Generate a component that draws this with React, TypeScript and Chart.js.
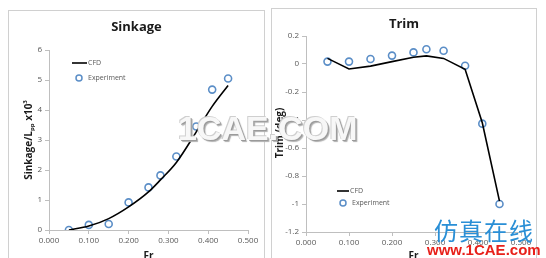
import React, { useEffect, useRef } from "react";
import { Chart, registerables } from "chart.js";
Chart.register(...registerables);

const froude = [0.05, 0.1, 0.15, 0.2, 0.25, 0.28, 0.32, 0.37, 0.41, 0.45];
const sinkageCFD = [0.0, 0.13, 0.38, 0.77, 1.27, 1.67, 2.25, 3.27, 4.12, 4.82];
const sinkageExp = [0.0, 0.17, 0.2, 0.92, 1.42, 1.82, 2.45, 3.45, 4.68, 5.05];
const trimCFD = [0.04, -0.036, -0.015, 0.017, 0.048, 0.058, 0.04, -0.038, -0.42, -0.98];
const trimExp = [0.017, 0.017, 0.036, 0.06, 0.083, 0.105, 0.095, -0.012, -0.426, -1.0];
const legendLabels = ["CFD", "Experiment"];

const FONT = "'Open Sans', 'Noto Sans', sans-serif";
const TICK = "#595959";
const AXIS = "#bfbfbf";
const MARK = "#5b8ec7";

type Cfg = {
  w: number; h: number;
  plot: { l: number; t: number; r: number; b: number };
  title: string; titleY: number;
  yMin: number; yMax: number; yStep: number;
  cfd: number[]; exp: number[]; smooth: boolean;
  legend: { lx1: number; lx2: number; ly: number; cx: number; cy: number; tx: number };
  yTitle: (ctx: CanvasRenderingContext2D) => void;
  frY: number;
};

function makePlugin(c: Cfg) {
  return {
    id: "decor",
    afterDraw(chart: any) {
      const ctx: CanvasRenderingContext2D = chart.ctx;
      const area = chart.chartArea;
      ctx.save();
      ctx.strokeStyle = "#d0d0d0";
      ctx.lineWidth = 1;
      ctx.strokeRect(0.5, 0.5, c.w - 1, c.h - 1);
      ctx.fillStyle = "#1a1a1a";
      ctx.textAlign = "center";
      ctx.textBaseline = "middle";
      ctx.font = `bold 13px ${FONT}`;
      ctx.fillText(c.title, c.w / 2, c.titleY);
      ctx.font = `bold 10px ${FONT}`;
      ctx.fillText("Fr", (area.left + area.right) / 2, c.frY);
      // legend
      const L = c.legend;
      ctx.strokeStyle = "#000";
      ctx.lineWidth = 1.6;
      ctx.beginPath();
      ctx.moveTo(L.lx1, L.ly);
      ctx.lineTo(L.lx2, L.ly);
      ctx.stroke();
      ctx.beginPath();
      ctx.arc(L.cx, L.cy, 3, 0, Math.PI * 2);
      ctx.fillStyle = "#fff";
      ctx.fill();
      ctx.strokeStyle = MARK;
      ctx.lineWidth = 1.5;
      ctx.stroke();
      ctx.fillStyle = TICK;
      ctx.textAlign = "left";
      ctx.font = `7px ${FONT}`;
      ctx.fillText(legendLabels[0], L.lx2 + 1, L.ly);
      ctx.fillText(legendLabels[1], L.tx, L.cy);
      ctx.restore();
      ctx.save();
      c.yTitle(ctx);
      ctx.restore();
    },
  };
}

function ChartBox({ c, left, top }: { c: Cfg; left: number; top: number }) {
  const ref = useRef<HTMLCanvasElement>(null);
  useEffect(() => {
    const xW = 28;
    const chart = new Chart(ref.current!, {
      type: "line",
      data: {
        datasets: [
          {
            label: legendLabels[0],
            data: froude.map((x, i) => ({ x, y: c.cfd[i] })),
            borderColor: "#000",
            borderWidth: 1.6,
            pointRadius: 0,
            tension: c.smooth ? 0.4 : 0,
            cubicInterpolationMode: c.smooth ? "monotone" : "default",
            fill: false,
          },
          {
            label: legendLabels[1],
            data: froude.map((x, i) => ({ x, y: c.exp[i] })),
            showLine: false,
            pointRadius: 3.5,
            pointBorderWidth: 1.6,
            pointBorderColor: MARK,
            pointBackgroundColor: "#fff",
            borderColor: MARK,
          },
        ],
      },
      options: {
        responsive: false,
        animation: false,
        devicePixelRatio: 1,
        layout: {
          padding: { left: 0, top: c.plot.t, right: c.w - c.plot.r, bottom: c.h - c.plot.b - xW },
        },
        plugins: { legend: { display: false }, tooltip: { enabled: false }, title: { display: false } },
        scales: {
          x: {
            type: "linear",
            min: 0,
            max: 0.5,
            ticks: {
              stepSize: 0.1,
              color: TICK,
              font: { size: 8, family: FONT },
              padding: 2,
              maxRotation: 0,
              callback: (v: any) => Number(v).toFixed(3),
            },
            grid: { drawOnChartArea: false, drawTicks: true, tickLength: 4, color: AXIS },
            border: { color: AXIS },
            afterFit: (s: any) => { s.height = xW; },
          },
          y: {
            min: c.yMin,
            max: c.yMax,
            ticks: {
              stepSize: c.yStep,
              color: TICK,
              font: { size: 8, family: FONT },
              padding: 3,
              callback: (v: any) => String(Number(Number(v).toFixed(1))),
            },
            grid: { drawOnChartArea: false, drawTicks: true, tickLength: 4, color: AXIS },
            border: { color: AXIS },
            afterFit: (s: any) => { s.width = c.plot.l; },
          },
        },
      },
      plugins: [makePlugin(c)],
    } as any);
    return () => chart.destroy();
  }, []);
  return (
    <canvas
      ref={ref}
      width={c.w}
      height={c.h}
      style={{ position: "fixed", left, top, width: c.w, height: c.h }}
    />
  );
}

const sinkCfg: Cfg = {
  w: 257, h: 262,
  plot: { l: 41, t: 40, r: 240, b: 220 },
  title: "Sinkage", titleY: 17,
  yMin: 0, yMax: 6, yStep: 1,
  cfd: sinkageCFD, exp: sinkageExp, smooth: true,
  legend: { lx1: 64, lx2: 79, ly: 53, cx: 71, cy: 68, tx: 80 },
  frY: 246,
  yTitle: (ctx) => {
    ctx.translate(21, 130);
    ctx.rotate(-Math.PI / 2);
    ctx.fillStyle = "#1a1a1a";
    ctx.textBaseline = "middle";
    const big = `bold 10px ${FONT}`;
    const small = `bold 6px ${FONT}`;
    const parts: [string, string, number][] = [
      ["Sinkage/L", big, 0],
      ["pp", small, 3],
      [" x10", big, 0],
      ["3", small, -4],
    ];
    let total = 0;
    for (const [t, f] of parts) { ctx.font = f; total += ctx.measureText(t).width; }
    let x = -total / 2;
    ctx.textAlign = "left";
    for (const [t, f, dy] of parts) {
      ctx.font = f;
      ctx.fillText(t, x, dy);
      x += ctx.measureText(t).width;
    }
  },
};

const trimCfg: Cfg = {
  w: 266, h: 264,
  plot: { l: 35, t: 28, r: 250, b: 224 },
  title: "Trim", titleY: 16,
  yMin: -1.2, yMax: 0.2, yStep: 0.2,
  cfd: trimCFD, exp: trimExp, smooth: false,
  legend: { lx1: 66, lx2: 78, ly: 183, cx: 72, cy: 195, tx: 81 },
  frY: 248,
  yTitle: (ctx) => {
    ctx.translate(9, 125);
    ctx.rotate(-Math.PI / 2);
    ctx.fillStyle = "#1a1a1a";
    ctx.textBaseline = "middle";
    ctx.textAlign = "center";
    ctx.font = `bold 10px ${FONT}`;
    ctx.fillText("Trim,(deg)", 0, 0);
  },
};

export default function App() {
  return (
    <div style={{ position: "fixed", left: 0, top: 0, width: 546, height: 258, overflow: "hidden", background: "#fff" }}>
      <ChartBox c={sinkCfg} left={8} top={10} />
      <ChartBox c={trimCfg} left={271} top={8} />
      <div
        style={{
          position: "fixed", left: 178, top: 108, fontFamily: "'Liberation Sans', Arial, sans-serif",
          fontWeight: "bold", fontSize: 34, color: "#f7f7f7", lineHeight: "40px",
          textShadow: "1px 1px 0 #9a9a9a, 2px 2px 1px #b0b0b0, -1px -1px 0 #cfcfcf",
          whiteSpace: "nowrap", pointerEvents: "none",
        }}
      >
        1CAE.COM
      </div>
      <div
        style={{
          position: "fixed", left: 434, top: 215, fontFamily: "'Noto Sans CJK SC', sans-serif",
          fontSize: 24, color: "#2a8fd6", lineHeight: "30px", letterSpacing: 1, whiteSpace: "nowrap",
        }}
      >
        仿真在线
      </div>
      <div
        style={{
          position: "fixed", left: 427, top: 241, fontFamily: "'Liberation Sans', Arial, sans-serif",
          fontWeight: "bold", fontSize: 15, color: "#e8201a", lineHeight: "17px", whiteSpace: "nowrap",
        }}
      >
        www.1CAE.com
      </div>
    </div>
  );
}
